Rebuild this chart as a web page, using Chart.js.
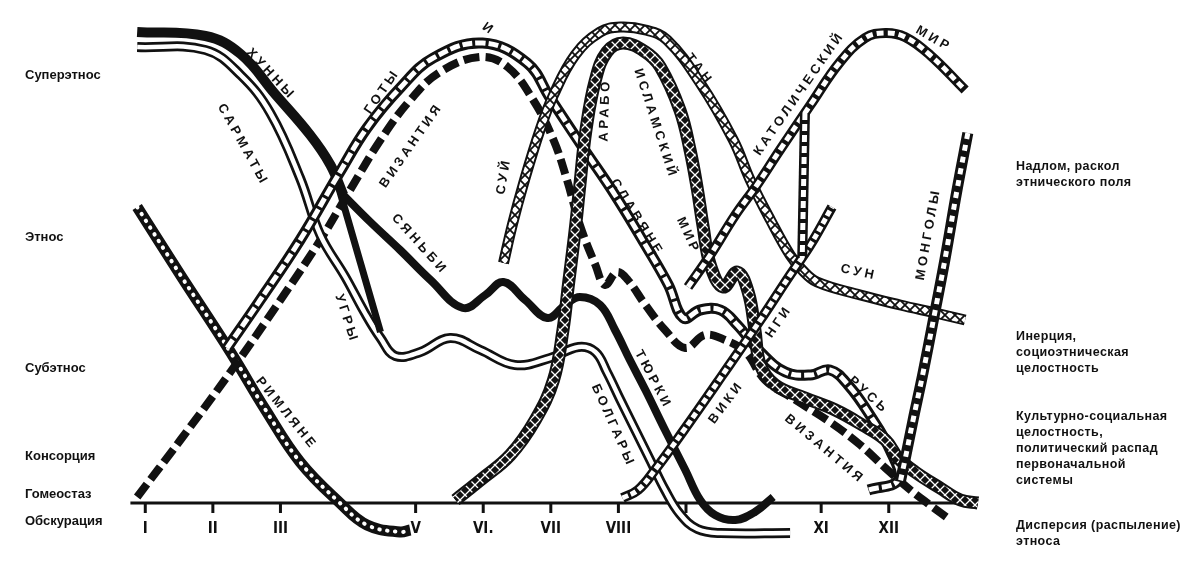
<!DOCTYPE html>
<html>
<head>
<meta charset="utf-8">
<title>Этногенез</title>
<script src="https://cdn.jsdelivr.net/npm/chart.js@4"></script>
<style>
  html, body { margin: 0; background: #fff; }
</style>
</head>
<body>
<canvas id="chart" width="1200" height="564"></canvas>
<script>
// x = век (I..XII), y = уровень пассионарности (условные единицы, 0 = ось)
const hunny = [[0.88,471],[1.89,467],[2.41,449],[2.92,409],[3.44,368],[3.74,338],[3.93,308]];
const syanbiTurks = [[3.93,308],[4.33,281],[4.77,253],[5.22,223],[5.70,195],[6.03,208],[6.30,221],[6.62,203],[6.95,185],[7.21,198],[7.43,206],[7.73,198],[7.95,173],[8.17,143],[8.40,113],[8.69,73],[8.99,33],[9.21,3],[9.43,-12],[9.73,-17],[10.02,-9],[10.29,6]];
const hunnyBranch = [[3.80,330],[4.18,241],[4.48,171]];
const sarmatyUgryBolgary = [[0.88,456],[1.89,453],[2.41,428],[2.85,390],[3.29,325],[3.59,268],[3.96,226],[4.25,190],[4.48,165],[4.70,147],[5.07,151],[5.51,165],[5.96,153],[6.47,138],[6.99,145],[7.41,156],[7.66,151],[7.83,131],[8.03,103],[8.25,73],[8.47,43],[8.69,13],[8.91,-11],[9.17,-26],[9.51,-30],[10.54,-30]];
const gotySlavyaneRus = [[2.21,155],[2.70,203],[3.29,263],[3.88,331],[4.28,375],[4.77,415],[5.26,445],[5.99,460],[6.65,440],[6.99,405],[7.48,355],[7.95,308],[8.40,258],[8.74,218],[8.96,185],[9.21,193],[9.51,193],[9.76,178],[10.10,151],[10.47,131],[10.84,128],[11.13,133],[11.40,118],[11.72,88],[12.02,53],[12.14,23],[11.70,13]];
const vizantia = [[0.88,6],[1.52,63],[2.26,131],[3.00,203],[3.59,263],[4.03,313],[4.48,363],[4.92,403],[5.36,431],[5.96,446],[6.36,436],[6.74,403],[7.04,363],[7.24,323],[7.43,278],[7.66,238],[7.80,218],[7.98,231],[8.14,223],[8.40,198],[8.69,173],[8.99,155],[9.28,168],[9.58,163],[9.88,151],[10.17,123],[10.62,103],[11.13,81],[11.58,58],[11.95,35],[12.32,13],[12.61,-2],[12.91,-17]];
const rimlyane = [[0.88,296],[1.52,228],[2.26,151],[2.78,93],[3.29,41],[3.88,0],[4.28,-22],[4.77,-29],[4.92,-27]];
const suiTanSun = [[6.30,240],[6.43,278],[6.59,318],[6.84,373],[7.04,408],[7.36,448],[7.73,471],[8.03,476],[8.40,473],[8.72,463],[9.21,420],[9.70,363],[9.95,323],[10.25,283],[10.54,248],[10.72,233],[10.94,221],[11.58,208],[12.17,198],[12.69,190],[13.13,183]];
const araboIslam = [[5.59,3],[5.96,23],[6.40,48],[6.77,83],[7.04,123],[7.18,173],[7.26,218],[7.36,273],[7.43,318],[7.52,373],[7.66,423],[7.83,451],[8.07,460],[8.40,451],[8.62,436],[8.91,393],[9.06,353],[9.17,313],[9.25,278],[9.36,238],[9.55,216],[9.76,231],[9.92,211],[10.02,173],[10.10,138],[10.32,118],[10.76,105],[11.21,93],[11.61,78],[11.95,63],[12.14,45],[12.39,31],[12.76,15],[13.06,3],[13.32,0]];
const vikingi = [[8.06,5],[8.29,13],[8.54,33],[8.96,72],[9.55,129],[10.10,183],[10.54,228],[10.84,258],[11.16,296]];
const katolik = [[9.03,216],[9.36,248],[9.73,288],[10.05,318],[10.39,353],[10.84,398],[11.28,441],[11.65,465],[11.95,470],[12.24,466],[12.61,448],[13.13,413]];
const katolikBranch = [[10.76,390],[10.72,245]];
const mongoly = [[13.17,370],[13.01,313],[12.83,243],[12.66,183],[12.51,131],[12.36,83],[12.24,43],[12.17,21]];

const centuryTicks = [1, 2, 3, 5, 6, 7, 8, 9, 11, 12];
const centuryLabels = ['I', 'II', 'III', 'V', 'VI.', 'VII', 'VIII', '', 'XI', 'XII'];

const levelNames = ['Суперэтнос', 'Этнос', 'Субэтнос', 'Консорция', 'Гомеостаз', 'Обскурация'];
const levelValues = [428, 266, 135, 47, 9, -18];

const phaseNames = [
  ['Надлом, раскол', 'этнического поля'],
  ['Инерция,', 'социоэтническая', 'целостность'],
  ['Культурно-социальная', 'целостность,', 'политический распад', 'первоначальной', 'системы'],
  ['Дисперсия (распыление)', 'этноса']
];
const phaseValues = [336, 166, 86, -23];

// подпись, век, уровень, наклон
const curveLabels = [
  ['ХУННЫ', 2.84, 430, 47],
  ['САРМАТЫ', 2.43, 360, 61],
  ['ГОТЫ', 4.49, 410, -55],
  ['ВИЗАНТИЯ', 4.92, 356, -55],
  ['И', 6.06, 475, 35],
  ['СУЙ', 6.30, 325, -80],
  ['АРАБО', 7.80, 391, -88],
  ['ИСЛАМСКИЙ', 8.54, 381, 72],
  ['МИР', 9.02, 269, 65],
  ['ТАН', 9.18, 435, 52],
  ['СЛАВЯНЕ', 8.26, 287, 58],
  ['КАТОЛИЧЕСКИЙ', 10.66, 408, -55],
  ['МИР', 12.64, 465, 30],
  ['СЯНЬБИ', 5.04, 260, 48],
  ['УГРЫ', 3.97, 186, 72],
  ['ТЮРКИ', 8.50, 125, 62],
  ['БОЛГАРЫ', 7.91, 79, 66],
  ['ВИКИ', 9.58, 99, -53],
  ['НГИ', 10.36, 180, -55],
  ['СУН', 11.53, 231, 12],
  ['МОНГОЛЫ', 12.58, 267, -80],
  ['РУСЬ', 11.68, 109, 42],
  ['ВИЗАНТИЯ', 11.03, 55, 40],
  ['РИМЛЯНЕ', 3.07, 91, 51]
];

const ink = '#111';
const font = "'Liberation Sans', Arial, sans-serif";

function hatch(bg, fg, step, lw) {
  const c = document.createElement('canvas');
  c.width = c.height = step;
  const g = c.getContext('2d');
  g.fillStyle = bg;
  g.fillRect(0, 0, step, step);
  g.strokeStyle = fg;
  g.lineWidth = lw;
  g.beginPath();
  g.moveTo(0, 0); g.lineTo(step, step);
  g.moveTo(step, 0); g.lineTo(0, step);
  g.stroke();
  return g.createPattern(c, 'repeat');
}
const lightHatch = hatch('#fff', ink, 10, 1.8);
const darkHatch = hatch(ink, '#fff', 10, 1.3);

let layer = 0;
function stroke(points, color, width, extra) {
  layer++;
  return Object.assign({
    data: points.map(([x, y]) => ({ x, y })),
    borderColor: color,
    borderWidth: width,
    pointRadius: 0,
    tension: 0.4,
    fill: false,
    clip: false,
    borderCapStyle: 'butt',
    borderJoinStyle: 'round',
    order: 1000 - layer
  }, extra);
}

const datasets = [
  stroke(rimlyane, ink, 11),
  stroke(rimlyane, '#fff', 4, { borderDash: [0.5, 7.5], borderCapStyle: 'round' }),
  stroke(vizantia, ink, 8, { borderDash: [16, 6] }),
  stroke(sarmatyUgryBolgary, ink, 10),
  stroke(sarmatyUgryBolgary, '#fff', 4.5),
  stroke(hunnyBranch, ink, 7, { tension: 0 }),
  stroke(hunny, ink, 10),
  stroke(syanbiTurks, ink, 8),
  stroke(gotySlavyaneRus, ink, 11),
  stroke(gotySlavyaneRus, '#fff', 5, { borderDash: [10, 3] }),
  stroke(suiTanSun, ink, 11),
  stroke(suiTanSun, lightHatch, 7),
  stroke(araboIslam, ink, 13),
  stroke(araboIslam, darkHatch, 9),
  stroke(vikingi, ink, 10),
  stroke(vikingi, '#fff', 5, { borderDash: [6, 3] }),
  stroke(katolik, ink, 10),
  stroke(katolik, '#fff', 5, { borderDash: [7, 4] }),
  stroke(katolikBranch, ink, 10, { tension: 0 }),
  stroke(katolikBranch, '#fff', 5, { borderDash: [7, 4], tension: 0 }),
  stroke(mongoly, ink, 11),
  stroke(mongoly, '#fff', 5, { borderDash: [6, 6] })
];

const decor = {
  id: 'decor',
  beforeDatasetsDraw(chart) {
    const { ctx, scales: { x, y } } = chart;
    const base = y.getPixelForValue(0);
    ctx.save();
    ctx.strokeStyle = ink;
    ctx.lineWidth = 3;
    ctx.beginPath();
    ctx.moveTo(x.getPixelForValue(0.78), base);
    ctx.lineTo(x.getPixelForValue(13.3), base);
    ctx.stroke();
    ctx.fillStyle = ink;
    ctx.font = "bold 15px 'Liberation Sans Narrow', 'DejaVu Sans Condensed', Arial, sans-serif";
    ctx.textAlign = 'center';
    ctx.textBaseline = 'middle';
    centuryTicks.forEach((c, i) => {
      const px = x.getPixelForValue(c);
      ctx.beginPath();
      ctx.moveTo(px, base);
      ctx.lineTo(px, base + 10);
      ctx.stroke();
      ctx.fillText(centuryLabels[i], px, base + 26);
    });
    ctx.restore();
  },
  afterDatasetsDraw(chart) {
    const { ctx, chartArea, scales: { x, y } } = chart;
    ctx.save();
    ctx.fillStyle = ink;
    ctx.textBaseline = 'middle';

    ctx.font = 'bold 13px ' + font;
    ctx.textAlign = 'left';
    levelNames.forEach((name, i) => {
      ctx.fillText(name, chartArea.left - 100, y.getPixelForValue(levelValues[i]));
    });

    ctx.font = 'bold 12.5px ' + font;
    ctx.letterSpacing = '0.4px';
    phaseNames.forEach((lines, i) => {
      const top = y.getPixelForValue(phaseValues[i]);
      lines.forEach((line, j) => {
        ctx.fillText(line, chartArea.right + 36, top + j * 16);
      });
    });

    ctx.font = 'bold 13px ' + font;
    ctx.letterSpacing = '3.5px';
    ctx.textAlign = 'center';
    curveLabels.forEach(([text, c, v, angle]) => {
      ctx.save();
      ctx.translate(x.getPixelForValue(c), y.getPixelForValue(v));
      ctx.rotate(angle * Math.PI / 180);
      ctx.fillText(text, 2, 0);
      ctx.restore();
    });
    ctx.restore();
  }
};

new Chart(document.getElementById('chart'), {
  type: 'line',
  data: { datasets },
  options: {
    responsive: false,
    animation: false,
    devicePixelRatio: 1,
    layout: { padding: { left: 125, right: 220, top: 23, bottom: 16 } },
    scales: {
      x: { type: 'linear', min: 0.7, max: 13.35, display: false },
      y: { type: 'linear', min: -45, max: 480, display: false }
    },
    plugins: { legend: { display: false }, tooltip: { enabled: false } },
    events: []
  },
  plugins: [decor]
});
</script>
</body>
</html>
